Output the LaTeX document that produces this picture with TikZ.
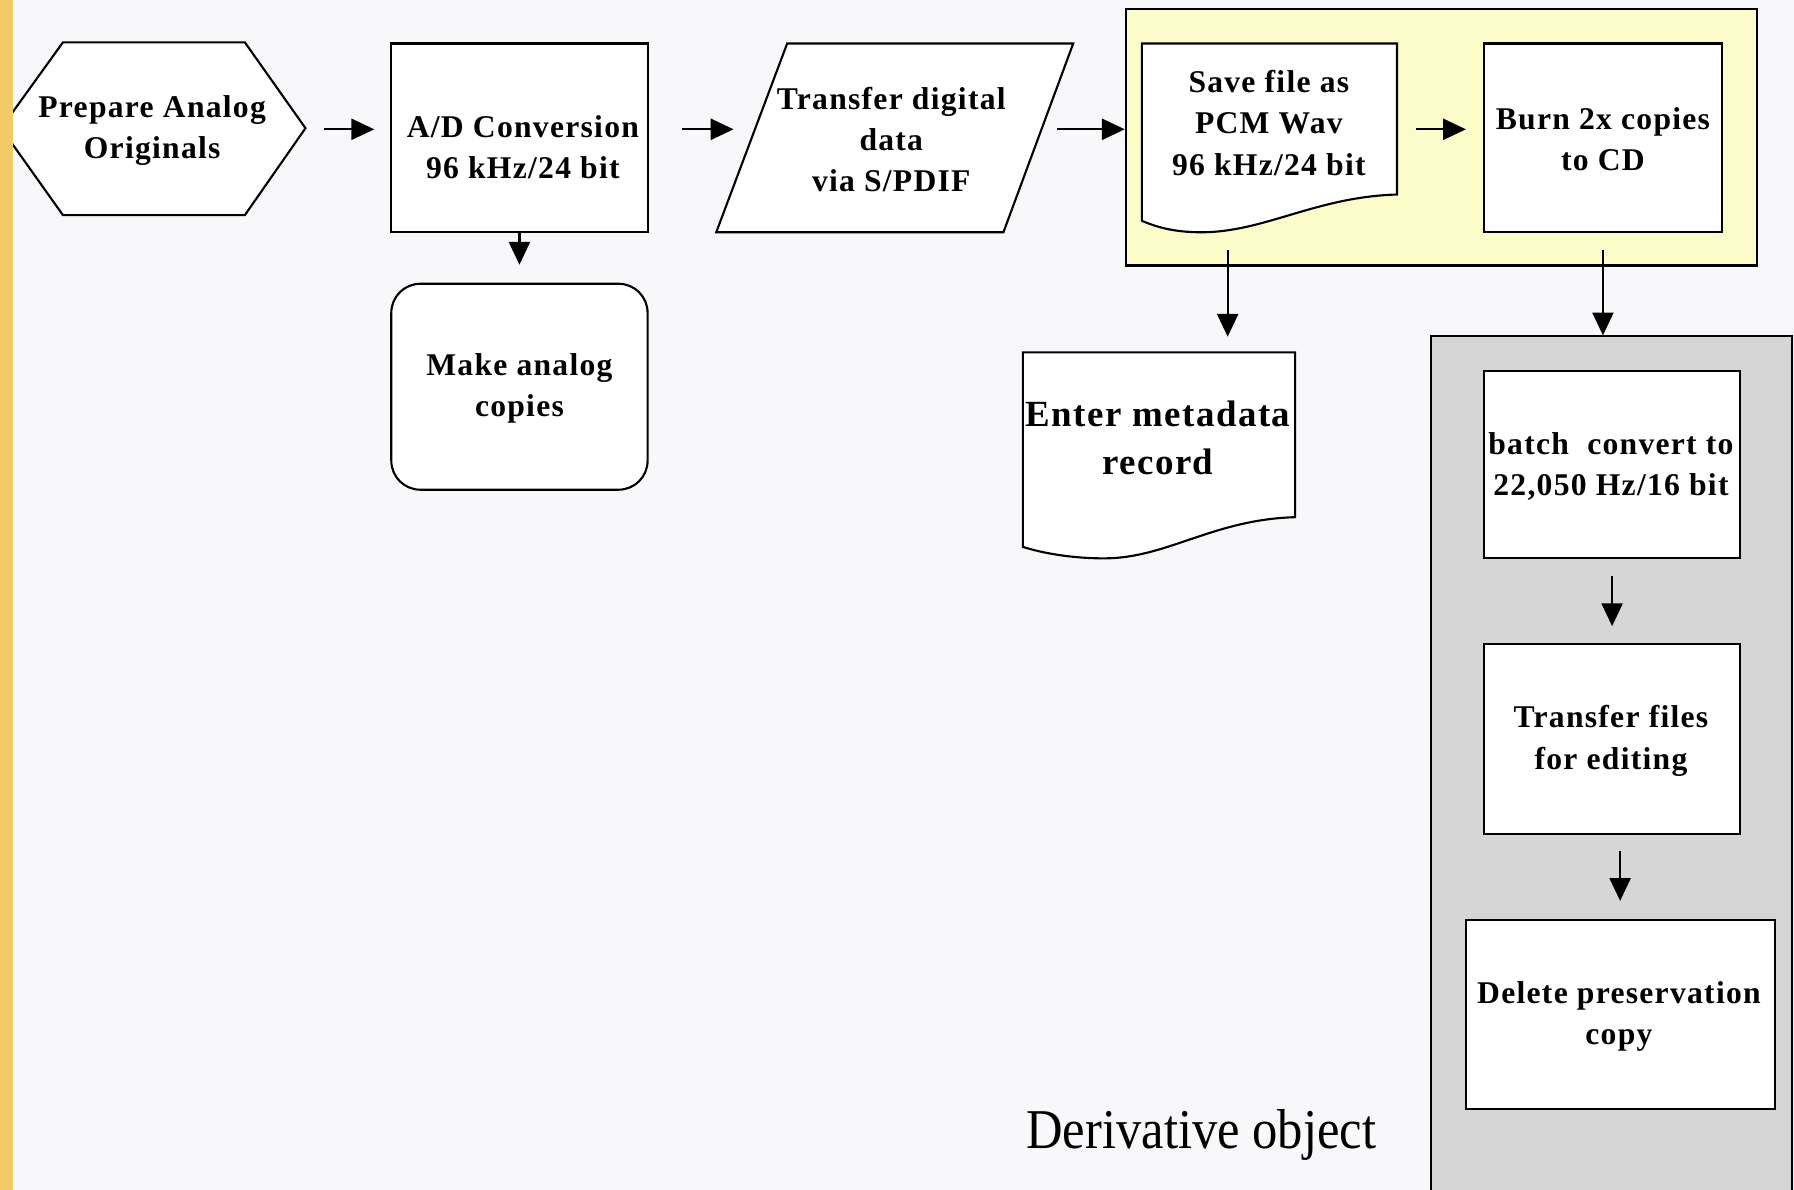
\documentclass[tikz,border=0pt]{standalone}
\usepackage{fontspec}
\setmainfont{Liberation Serif}
\newfontfamily\boxfont[LetterSpace=4]{Liberation Serif}
\newfontfamily\capfont[FakeStretch=0.9]{Liberation Serif}
\usetikzlibrary{arrows.meta,fit}
\definecolor{paper}{RGB}{248,248,250}
\definecolor{stripe}{RGB}{242,202,104}
\definecolor{memo}{RGB}{252,252,202}
\definecolor{shade}{RGB}{214,214,214}
\begin{document}
\begin{tikzpicture}[x=0.01144cm,y=-0.01144cm,
    box/.style={draw,fill=white,line width=0.6pt,inner sep=0pt},
    area/.style={draw,line width=0.6pt,inner sep=0pt},
    hull/.style={inner sep=0pt},
    txt/.style={align=center,inner sep=0pt,font=\boxfont\bfseries\fontsize{9}{11.7}\selectfont},
    arr/.style={line width=0.6pt,-{Triangle[length=6.5pt,width=6pt]}}]
  \useasboundingbox (0,0) rectangle (1568,1040);
  \fill[paper] (0,0) rectangle (1568,1040);
  % groups
  \node[area,fill=memo,fit={(984,8) (1536,232)}] (memo) {};
  \node[area,fill=shade,fit={(1251,294) (1566,1060)}] (deriv) {};
  \node[font=\capfont\fontsize{16}{18}\selectfont] (deriv-t) at (1050,992) {Derivative object};
  % preparation and capture
  \draw[box] (1,112) -- (55,37) -- (214,37) -- (267,112) -- (214,188) -- (55,188) -- cycle;
  \node[hull,fit={(1,37) (267,188)}] (prep) {};
  \node[txt] (prep-t) at (133,114) {Prepare Analog\\Originals};
  \node[box,fit={(342,38) (566,203)}] (ad) {};
  \node[txt] (ad-t) at (457,129) {A/D Conversion\\96 kHz/24 bit};
  \node[box,rounded corners=0.29cm,fit={(342,248) (566,428)}] (make) {};
  \node[txt] (make-t) at (454,339.5) {Make analog\\copies};
  \draw[box] (688,38) -- (938,38) -- (877,203) -- (626,203) -- cycle;
  \node[hull,fit={(626,38) (938,203)}] (trans) {};
  \node[txt] (trans-t) at (779,122) {Transfer digital\\data\\via S/PDIF};
  % preservation copy
  \draw[box] (998,38) -- (1221,38) -- (1221,170)
    .. controls (1150,172) and (1105,203) .. (1050,203)
    .. controls (1025,203) and (1010,198) .. (998,193) -- cycle;
  \node[hull,fit={(998,38) (1221,203)}] (save) {};
  \node[txt] (save-t) at (1109,107.5) {Save file as\\PCM Wav\\96 kHz/24 bit};
  \node[box,fit={(1297,38) (1505,203)}] (burn) {};
  \node[txt] (burn-t) at (1401,122) {Burn 2x copies\\to CD};
  \draw[box] (894,308) -- (1132,308) -- (1132,452)
    .. controls (1060,454) and (1020,488) .. (965,488)
    .. controls (935,488) and (910,483) .. (894,478) -- cycle;
  \node[hull,fit={(894,308) (1132,488)}] (meta) {};
  \node[txt,font=\boxfont\bfseries\fontsize{10.5}{13.6}\selectfont] (meta-t) at (1012,383) {Enter metadata\\record};
  % derivative
  \node[box,fit={(1297,324) (1521,488)}] (batch) {};
  \node[txt] (batch-t) at (1408,407.5) {batch\ \ convert to\\22,050 Hz/16 bit};
  \node[box,fit={(1297,563) (1521,729)}] (transf) {};
  \node[txt] (transf-t) at (1408,647.5) {Transfer files\\for editing};
  \node[box,fit={(1281,804) (1551,969)}] (del) {};
  \node[txt] (del-t) at (1415,888) {Delete preservation\\copy};
  % connectors
  \coordinate (row) at (0,113);
  \coordinate (col) at (1073,0);
  \draw[arr,shorten <=0.18cm,shorten >=0.16cm] (prep.east |- row) -- (ad.west |- row);
  \draw[arr,shorten <=0.33cm,shorten >=-0.18cm] (ad.east |- row) -- (trans.west |- row);
  \draw[arr,shorten <=-0.17cm] (trans.east |- row) -- (memo.west |- row);
  \draw[arr,shorten <=0.18cm,shorten >=0.17cm] (save.east |- row) -- (burn.west |- row);
  \draw[arr,shorten >=0.18cm] (ad.south) -- (make.north);
  \draw[arr,shorten <=0.17cm,shorten >=0.15cm] (save.south -| col) -- (meta.north -| col);
  \draw[arr,shorten <=0.17cm] (burn.south) -- (burn.south |- deriv.north);
  \draw[arr,shorten <=0.17cm,shorten >=0.17cm] (batch.south) -- (transf.north);
  \draw[arr,shorten <=0.16cm,shorten >=0.18cm] (transf.south -| del.north) -- (del.north);
  % page edge
  \fill[stripe] (0,0) rectangle (11,1040);
\end{tikzpicture}
\end{document}
